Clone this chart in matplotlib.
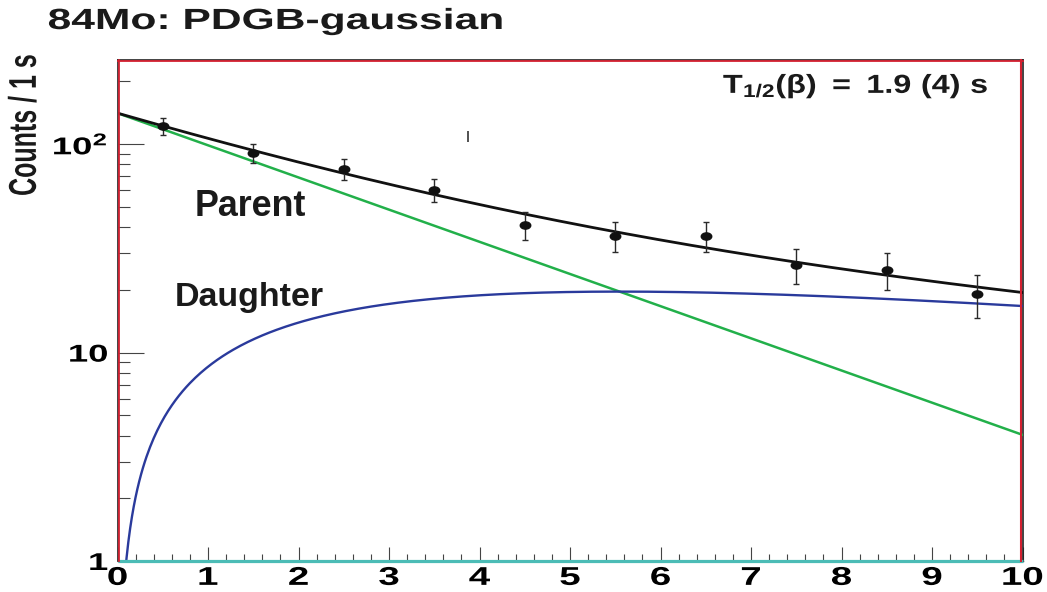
import numpy as np
import matplotlib
matplotlib.use("Agg")
import matplotlib.pyplot as plt
from matplotlib import patheffects, transforms
from matplotlib.markers import MarkerStyle
from matplotlib.ticker import FixedLocator, MultipleLocator, LogLocator, NullFormatter

plt.rcParams["font.family"] = ["Liberation Sans", "DejaVu Sans"]
plt.rcParams["font.weight"] = "bold"
plt.rcParams["mathtext.fontset"] = "custom"
plt.rcParams["mathtext.rm"] = "Liberation Sans:bold"
plt.rcParams["mathtext.it"] = "Liberation Sans:bold"
plt.rcParams["mathtext.bf"] = "Liberation Sans:bold"

# ---- measured decay curve (counts per 1 s bin) ----
bin_centers = [0.5, 1.5, 2.5, 3.5, 4.5, 5.5, 6.5, 7.5, 8.5, 9.5]
counts = [122, 90.5, 76, 60.5, 41, 36.3, 36.3, 26.4, 25.0, 19.1]
count_errors = [11.0, 9.5, 8.7, 7.8, 6.4, 6.0, 6.0, 5.1, 5.0, 4.4]

# ---- fit parameters ----
parent_activity0 = 141.0      # counts/s at t = 0
parent_halflife = 1.95        # s
daughter_rate = 0.075         # 1/s
daughter_weight_in_total = 0.92

title_text = "84Mo: PDGB-gaussian"
halflife_label = r"$\mathbf{T_{1/2}(\beta)\ =\ 1.9\ (4)\ s}$"
xtick_values = list(range(0, 11))
ytick_values = [1, 10, 100]
ytick_labels = ["1", "10", r"$\mathbf{10^{2}}$"]

RED = "#d42030"
GREEN = "#22b04a"
BLUE = "#2a3a9c"
TEAL = "#4cbcb6"


class Stretch(patheffects.AbstractPathEffect):
    """Widen (or narrow) glyph outlines horizontally around an anchor."""

    def __init__(self, sx=1.0, anchor="center"):
        super().__init__()
        self.sx = sx
        self.anchor = anchor

    def draw_path(self, renderer, gc, tpath, affine, rgbFace=None):
        ext = tpath.get_extents(affine)
        if self.anchor == "left":
            x0 = ext.x0
        elif self.anchor == "right":
            x0 = ext.x1
        else:
            x0 = 0.5 * (ext.x0 + ext.x1)
        extra = transforms.Affine2D().translate(-x0, 0).scale(self.sx, 1).translate(x0, 0)
        renderer.draw_path(gc, tpath, affine + extra, rgbFace)


W, H = 1047, 592
fig = plt.figure(figsize=(W / 100, H / 100), dpi=100)
fig.patch.set_facecolor("white")

ax_l, ax_r, ax_t, ax_b = 117.5, 1022.5, 59.5, 561.0
ax = fig.add_axes([ax_l / W, 1 - ax_b / H, (ax_r - ax_l) / W, (ax_b - ax_t) / H])
ax.set_xlim(0, 10)
ax.set_yscale("log")
ax.set_ylim(1, 255)

# fit components
t = np.linspace(0, 10, 501)
lam_p = np.log(2) / parent_halflife
parent = parent_activity0 * np.exp(-lam_p * t)
daughter = parent_activity0 * daughter_rate / (lam_p - daughter_rate) * (
    np.exp(-daughter_rate * t) - np.exp(-lam_p * t))
total = parent + daughter_weight_in_total * daughter

ax.plot(t, parent, color=GREEN, lw=1.8, zorder=3)
ax.plot(t[1:], daughter[1:], color=BLUE, lw=1.7, zorder=4)
ax.plot(t, total, color="#111111", lw=2.0, zorder=5)
ax.plot([0, 10], [1, 1], color=TEAL, lw=2.3, zorder=6, clip_on=False,
        solid_capstyle="butt")

# data points with Poisson error bars
dot = MarkerStyle("o", transform=transforms.Affine2D().scale(1.45, 1.0))
ax.errorbar(bin_centers, counts, yerr=count_errors, fmt="none",
            ecolor="#2a2a2a", elinewidth=1.0, capsize=2.2, capthick=1.0, zorder=6)
ax.plot(bin_centers, counts, linestyle="none", marker=dot, markersize=5.2,
        color="#111111", zorder=7)
ax.vlines(3.87, 103, 116, color="#333333", lw=1.2, zorder=6)

# frame: dark outer line with a red inner line
for side in ["left", "top", "right"]:
    ax.spines[side].set_color("#222222")
    ax.spines[side].set_linewidth(1.2)
ax.spines["bottom"].set_color("#222222")
ax.spines["bottom"].set_linewidth(1.0)
off_l = transforms.offset_copy(ax.transAxes, fig=fig, x=1.8, y=0, units="dots")
off_t = transforms.offset_copy(ax.transAxes, fig=fig, x=0, y=-1.6, units="dots")
off_r = transforms.offset_copy(ax.transAxes, fig=fig, x=-1.4, y=0, units="dots")
ax.plot([0, 0], [0, 1], color=RED, lw=1.3, transform=off_l, clip_on=False, zorder=8)
ax.plot([0, 1], [1, 1], color=RED, lw=1.3, transform=off_t, clip_on=False, zorder=8)
ax.plot([1, 1], [0, 1], color=RED, lw=1.5, transform=off_r, clip_on=False, zorder=8)

# ticks
ax.xaxis.set_major_locator(FixedLocator(xtick_values))
ax.xaxis.set_minor_locator(MultipleLocator(0.2))
ax.yaxis.set_major_locator(FixedLocator(ytick_values))
ax.yaxis.set_minor_locator(LogLocator(base=10, subs=np.arange(2, 10)))
ax.yaxis.set_minor_formatter(NullFormatter())
ax.set_xticklabels([str(v) for v in xtick_values])
ax.set_yticklabels(ytick_labels)

ax.tick_params(axis="x", which="major", direction="in", length=10, width=0.8,
               color="#444444", labelsize=18.5, pad=3.5, top=False)
ax.tick_params(axis="x", which="minor", direction="in", length=5, width=0.8,
               color="#444444", top=False)
ax.tick_params(axis="y", which="major", direction="in", length=18.5, width=0.8,
               color="#444444", labelsize=17.5, pad=7, right=False)
ax.tick_params(axis="y", which="minor", direction="in", length=8.6, width=0.8,
               color="#444444", right=False)

for lab in ax.get_xticklabels():
    lab.set_fontweight("bold")
    lab.set_path_effects([Stretch(1.5, "center")])
for lab in ax.get_yticklabels():
    lab.set_fontweight("bold")
    lab.set_path_effects([Stretch(1.5, "right")])

# texts
fig.text(48 / W, 1 - 29 / H, title_text, fontsize=21, fontweight="bold",
         ha="left", va="baseline", color="#1a1a1a",
         path_effects=[Stretch(1.46, "left")])
fig.text(24 / W, 1 - 125 / H, "Counts / 1 s", fontsize=18, fontweight="bold",
         rotation=90, ha="center", va="center", color="#1a1a1a",
         path_effects=[Stretch(1.55, "center")])
fig.text(723 / W, 1 - 93 / H, halflife_label, fontsize=18.8, ha="left",
         va="baseline", color="#1a1a1a", path_effects=[Stretch(1.24, "left")])
fig.text(195 / W, 1 - 216 / H, "Parent", fontsize=25.8, fontweight="bold",
         ha="left", va="baseline", color="#1a1a1a")
fig.text(175 / W, 1 - 306 / H, "Daughter", fontsize=24.5, fontweight="bold",
         ha="left", va="baseline", color="#1a1a1a")

fig.savefig("out.png", dpi=100, facecolor="white")
